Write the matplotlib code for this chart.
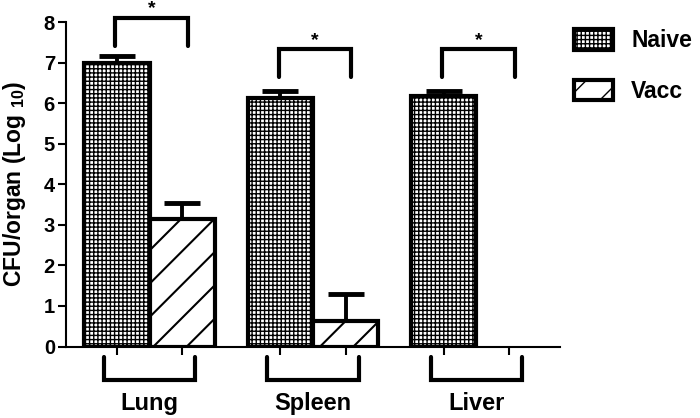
import matplotlib
matplotlib.use("Agg")
import matplotlib.pyplot as plt
import numpy as np

# values
organs = ["Lung", "Spleen", "Liver"]
groups = ["Naive", "Vacc"]
naive = [6.98, 6.13, 6.18]
naive_err = [0.18, 0.16, 0.11]
vacc = [3.14, 0.64, 0.0]
vacc_err = [0.39, 0.66, 0.0]
stars = ["*", "*", "*"]
yticks = [0, 1, 2, 3, 4, 5, 6, 7, 8]

plt.rcParams["font.family"] = ["Liberation Sans", "DejaVu Sans"]
plt.rcParams["font.weight"] = "bold"
plt.rcParams["mathtext.fontset"] = "custom"
plt.rcParams["mathtext.rm"] = "Liberation Sans:bold"
plt.rcParams["mathtext.default"] = "rm"
plt.rcParams["hatch.color"] = "black"

fig = plt.figure(figsize=(7, 4.18), dpi=100)
ax = fig.add_axes([66 / 700, 1 - 346.5 / 418, 494 / 700, 324.5 / 418])

x = np.arange(len(organs))
w = 0.4
lw = 3

with plt.rc_context({"hatch.linewidth": 1.0}):
    b1 = ax.bar(x - w / 2, naive, w, color="white", edgecolor="black", linewidth=lw,
                hatch="++++", label=groups[0], zorder=2)
with plt.rc_context({"hatch.linewidth": 1.5}):
    b2 = ax.bar(x + w / 2, vacc, w, color="white", edgecolor="black", linewidth=lw,
                hatch="/", label=groups[1], zorder=2)
for rect, v in zip(b2.patches, vacc):
    if v == 0:
        rect.set_visible(False)

# one-sided error bars, only where there is an error
for xs, vals, errs in [(x - w / 2, naive, naive_err), (x + w / 2, vacc, vacc_err)]:
    for xi, v, e in zip(xs, vals, errs):
        if e > 0:
            ax.errorbar(xi, v, yerr=[[0], [e]], fmt="none", ecolor="black",
                        elinewidth=2.8, capthick=3.5, capsize=13, zorder=1)

# significance brackets above each pair
tops = [8.11, 7.33, 7.33]
for xi, top, s in zip(x, tops, stars):
    xl, xr = xi - 0.21, xi + 0.235
    ax.plot([xl, xl, xr, xr], [top - 0.69, top, top, top - 0.69], color="black",
            lw=3, clip_on=False, solid_joinstyle="miter", solid_capstyle="round")
    ax.text((xl + xr) / 2, top + 0.22, s, ha="center", va="center", fontsize=14,
            fontweight="bold", clip_on=False)

# brackets + names under each organ
trans = ax.get_xaxis_transform()
for xi, name in zip(x, organs):
    ax.plot([xi - 0.28, xi - 0.28, xi + 0.28, xi + 0.28], [-0.032, -0.103, -0.103, -0.032],
            color="black", lw=3, transform=trans, clip_on=False,
            solid_joinstyle="miter", solid_capstyle="round")
    ax.text(xi, -0.196, name, transform=trans, ha="center", va="baseline",
            fontsize=17, fontweight="bold")

ax.set_xlim(-0.511, 2.511)
ax.set_ylim(0, 8)
ax.set_yticks(yticks)
ax.set_xticks(np.concatenate([x - w / 2, x + w / 2]))
ax.set_xticklabels([])
ax.tick_params(axis="x", length=6, width=1.5, direction="out")
ax.tick_params(axis="y", length=6, width=1.5, direction="out", labelsize=14.5, pad=2)
for lab in ax.get_yticklabels():
    lab.set_fontweight("bold")

for side in ["top", "right"]:
    ax.spines[side].set_visible(False)
for side in ["left", "bottom"]:
    ax.spines[side].set_linewidth(1.5)

ax.set_ylabel("CFU/organ (Log $_{10}$)", fontsize=16.5, fontweight="bold")
ax.yaxis.set_label_coords(-0.076, 0.5)

fig.legend(handles=[b1, b2], loc="upper left", bbox_to_anchor=(574 / 700, 1 - 29 / 418),
           frameon=False, handlelength=1.7, handleheight=1.0,
           handletextpad=0.8, labelspacing=1.2, borderpad=0, borderaxespad=0,
           prop={"weight": "bold", "size": 16.5})

plt.savefig("out.png", dpi=100)
plt.close()
